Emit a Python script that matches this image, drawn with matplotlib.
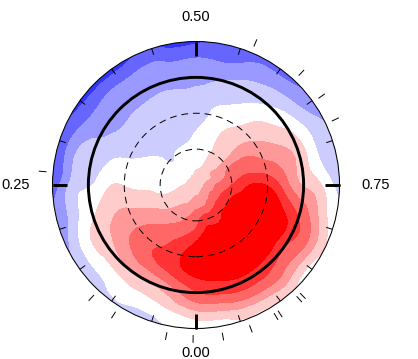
import numpy as np
import matplotlib
matplotlib.use("Agg")
import matplotlib.pyplot as plt
import matplotlib.tri as mtri
from matplotlib.patches import Circle

colat = [15, 30, 45, 60, 75, 90, 105, 120]
phase_deg = list(range(0, 360, 15))
center_value = 0.9
field = [
    [2.0, 3.2, 4.3, 5.2, 4.7, 3.4, 1.5, -0.1],
    [1.6, 2.6, 3.5, 4.2, 3.8, 2.0, 0.5, -0.6],
    [1.4, 2.1, 3.0, 3.5, 3.2, 1.4, 0.2, -0.7],
    [1.2, 1.6, 2.4, 3.0, 2.6, 1.3, -0.1, -0.9],
    [0.9, 1.1, 1.7, 2.1, 1.9, 1.0, 0.0, -1.5],
    [0.6, 0.5, 0.9, 1.3, 1.1, 0.3, -0.9, -2.3],
    [0.35, 0.25, 0.3, 0.45, 0.3, -0.65, -1.3, -3.2],
    [0.2, 0.0, 0.0, -0.2, -0.5, -1.1, -1.6, -3.3],
    [0.2, -0.1, -0.45, -0.9, -1.2, -1.7, -2.4, -3.6],
    [0.1, -0.6, -0.8, -1.0, -1.3, -1.9, -2.4, -3.8],
    [0.2, -0.4, -0.8, -1.0, -1.2, -1.9, -2.4, -3.7],
    [0.2, -0.3, -0.9, -1.0, -1.1, -1.9, -2.4, -3.5],
    [0.4, 0.0, -0.5, -0.9, -1.1, -1.9, -2.4, -3.6],
    [0.5, 0.3, 0.0, -0.3, -0.8, -1.5, -2.5, -3.2],
    [0.9, 0.7, 0.7, 0.3, -0.35, -1.0, -1.9, -2.7],
    [1.4, 1.2, 1.3, 1.0, 0.5, -0.4, -1.5, -2.6],
    [1.5, 2.3, 2.5, 2.0, 1.3, 0.5, -0.8, -1.7],
    [1.8, 3.0, 3.3, 2.9, 2.2, 1.1, -0.5, -1.5],
    [2.4, 3.5, 4.5, 4.4, 2.9, 1.4, 0.5, -0.9],
    [2.5, 4.2, 5.1, 5.4, 4.5, 3.2, 1.6, -0.1],
    [2.7, 4.4, 5.3, 5.5, 5.4, 3.7, 2.4, 0.4],
    [2.5, 4.4, 5.2, 5.5, 5.4, 3.8, 2.3, 0.4],
    [2.3, 4.0, 5.0, 5.4, 5.3, 4.1, 2.4, 0.35],
    [2.0, 4.0, 5.0, 5.3, 5.0, 3.9, 2.0, 0.2],
]
levels = [-9, -3.5, -2.5, -1.5, -0.5, 0.5, 1.5, 2.5, 3.5, 4.5, 9]
colors = ["#3333ff", "#6666ff", "#9999ff", "#ccccff", "#ffffff",
          "#ffcccc", "#ff9999", "#ff6666", "#ff3333", "#ff0000"]
obs_phases = [0.003, 0.031, 0.09, 0.119, 0.264, 0.563, 0.62, 0.652, 0.68,
              0.878, 0.883, 0.908, 0.913, 0.942, 0.972]
label_phases = [0.0, 0.25, 0.5, 0.75]
label_text = ["0.00", "0.25", "0.50", "0.75"]
minor_phases = [round(i * 0.05, 2) for i in range(20)]

W, H = 418, 359
CX, CY, RPX = 196.0, 185.0, 143.5
K = 120.0 / RPX

fig = plt.figure(figsize=(W / 100, H / 100), dpi=100)
ax = fig.add_axes([0, 0, 1, 1])
ax.set_xlim(-CX * K, (W - CX) * K)
ax.set_ylim(-(H - CY) * K, CY * K)
ax.axis("off")


def xy(phase, r):
    a = 2 * np.pi * np.asarray(phase)
    return np.asarray(r) * -np.sin(a), np.asarray(r) * -np.cos(a)


z = np.array(field)
z = np.hstack([z, z[:, -1:]])
rings = np.array(colat + [127])
ph = np.array(phase_deg) / 360.0
P, R = np.meshgrid(ph, rings, indexing="ij")
px, py = xy(P.ravel(), R.ravel())
px = np.r_[0.0, px]
py = np.r_[0.0, py]
zz = np.r_[center_value, z.ravel()]
tri = mtri.Triangulation(px, py)
refiner = mtri.UniformTriRefiner(tri)
tri2, z2 = refiner.refine_field(zz, subdiv=3)
cs = ax.tricontourf(tri2, z2, levels=levels, colors=colors, antialiased=False)
clip = Circle((0, 0), 120, transform=ax.transData, fill=False, lw=0)
ax.add_patch(clip)
cs.set_clip_path(clip)

ax.add_patch(Circle((0, 0), 120, fill=False, ec="black", lw=0.75))
ax.add_patch(Circle((0, 0), 90, fill=False, ec="black", lw=2.1))
for r in (30, 60):
    ax.add_patch(Circle((0, 0), r, fill=False, ec="black", lw=0.7,
                        ls=(0, (7, 5))))


def radial(phase, r0, r1, **kw):
    x, y = xy([phase, phase], [r0, r1])
    ax.plot(x, y, color="black", solid_capstyle="butt", **kw)


for p in minor_phases:
    radial(p, 114.5, 120, lw=0.7)
for p in label_phases:
    radial(p, 108, 120, lw=2.1)
for p in obs_phases:
    radial(p, 125.5, 132, lw=0.7)

offs = {0.0: 140.5, 0.25: 150.5, 0.5: 140.5, 0.75: 150}
for p, t in zip(label_phases, label_text):
    x, y = xy(p, offs[p])
    ax.text(x, y, t, ha="center", va="center", fontsize=10.5,
            family="Liberation Sans", color="black")

fig.savefig("out.png", dpi=100)
